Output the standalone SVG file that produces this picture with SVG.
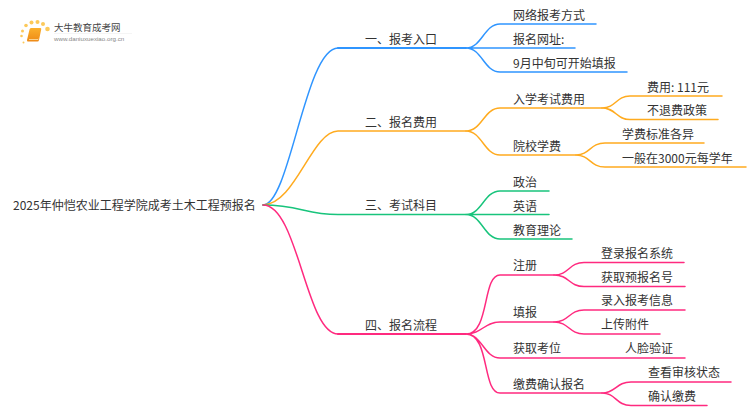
<svg xmlns="http://www.w3.org/2000/svg" width="750" height="410" viewBox="0 0 750 410">
<defs><linearGradient id="bk" x1="0" y1="0" x2="0" y2="1"><stop offset="0" stop-color="#fbb02c"/><stop offset="1" stop-color="#ee8a17"/></linearGradient></defs>
<style>
text{font-family:"Noto Sans CJK SC","Noto Sans",sans-serif;font-size:12px;fill:#333}
.c{fill:none;stroke-width:1.5;stroke-linecap:round}
.m{stroke-width:2}
.b{stroke:#2f95ff}.o{stroke:#ffab1f}.g{stroke:#18c47c}.p{stroke:#ff2a7f}
</style>
<rect width="750" height="410" fill="#fff"/>
<g id="logo">
<g fill="#fcc95a"><circle cx="23.500" cy="42.500" r="1"/><circle cx="21.500" cy="36" r="1.300"/><circle cx="22.500" cy="31" r="1.500"/><circle cx="26" cy="25.500" r="1.800"/><circle cx="31.500" cy="22.500" r="2"/><circle cx="37.500" cy="22" r="2"/><circle cx="43" cy="24" r="2"/><circle cx="47.500" cy="29" r="2.300"/></g>
<path d="M31 28h9.500q1 0 .7 1.500l-2.200 10.500q-.3 1.500-1.500 1.500h-9.500q-1.200 0-1-1.500l2.500-10.500q.3-1.500 1.500-1.500z" fill="url(#bk)"/>
<path d="M29 39.500h9l1-1" fill="none" stroke="#fde3b0" stroke-width=".8"/>
<text x="54" y="31" style="font-size:9.500px;fill:#444">大牛教育成考网</text>
<text x="54" y="41" style="font-family:'Liberation Sans',sans-serif;font-size:6.200px;fill:#888">www.daniuxuexiao.org.cn</text>
<path d="M54 33.500H132" stroke="#eee" stroke-width=".6"/>
</g>
<g id="connectors">
<path class="c b" d="M263 205C290 205 305 48 338 48"/><path class="c b m" d="M338 48H466"/>
<path class="c o" d="M263 205C295 205 312 131 338 131H466"/>
<path class="c g" d="M263 205C300 205 305 214.500 338 214.500H466"/>
<path class="c p" d="M263 205C298 205 306 334 338 334"/><path class="c p m" d="M338 334H466"/>
<path class="c b" d="M466 48C482 48 484 24 500 24H596M466 48H575M466 48C482 48 484 72 500 72H627"/>
<path class="c o" d="M466 131C482 131 484 108 500 108H602M466 131C482 131 484 155 500 155H576"/>
<path class="c o" d="M602 108C616 108 616 96 630 96H722M602 108C616 108 616 119.500 630 119.500H718"/>
<path class="c o" d="M576 155C590 155 590 143 605 143H704M576 155C590 155 590 167 605 167H746"/>
<path class="c g" d="M466 214.500C482 214.500 484 191 500 191H549M466 214.500H549M466 214.500C482 214.500 484 239 500 239H572"/>
<path class="c p" d="M466 334C490 334 482 275 500 275H554M466 334C482 334 484 322 500 322H554M466 334C482 334 484 358 500 358H685M466 334C490 334 482 393 500 393H602"/>
<path class="c p" d="M554 275C569 275 569 262.500 584 262.500H684M554 275C569 275 569 286.500 584 286.500H685"/>
<path class="c p" d="M554 322C569 322 569 310 584 310H685M554 322C569 322 569 334 584 334H660"/>
<path class="c p" d="M602 393C616 393 616 382 631 382H731M602 393C616 393 616 405.500 631 405.500H707"/>
</g>
<g id="root"><text x="13" y="210">2025年仲恺农业工程学院成考土木工程预报名</text></g>
<g id="n1"><text x="365" y="44">一、报考入口</text></g>
<g id="n2"><text x="365" y="127">二、报名费用</text></g>
<g id="n3"><text x="365" y="210">三、考试科目</text></g>
<g id="n4"><text x="365" y="330">四、报名流程</text></g>
<g id="n1a"><text x="513" y="20">网络报考方式</text></g>
<g id="n1b"><text x="513" y="44">报名网址:</text></g>
<g id="n1c"><text x="513" y="68">9月中旬可开始填报</text></g>
<g id="n2a"><text x="513" y="104">入学考试费用</text></g>
<g id="n2a1"><text x="647" y="92">费用: 111元</text></g>
<g id="n2a2"><text x="647" y="115">不退费政策</text></g>
<g id="n2b"><text x="513" y="151">院校学费</text></g>
<g id="n2b1"><text x="622" y="139">学费标准各异</text></g>
<g id="n2b2"><text x="622" y="163">一般在3000元每学年</text></g>
<g id="n3a"><text x="513" y="187">政治</text></g>
<g id="n3b"><text x="513" y="211">英语</text></g>
<g id="n3c"><text x="513" y="235">教育理论</text></g>
<g id="n4a"><text x="513" y="270">注册</text></g>
<g id="n4a1"><text x="601" y="258">登录报名系统</text></g>
<g id="n4a2"><text x="601" y="282">获取预报名号</text></g>
<g id="n4b"><text x="513" y="317">填报</text></g>
<g id="n4b1"><text x="601" y="305">录入报考信息</text></g>
<g id="n4b2"><text x="601" y="329">上传附件</text></g>
<g id="n4c"><text x="513" y="353">获取考位</text></g>
<g id="n4c1"><text x="625" y="353">人脸验证</text></g>
<g id="n4d"><text x="513" y="389">缴费确认报名</text></g>
<g id="n4d1"><text x="648" y="377">查看审核状态</text></g>
<g id="n4d2"><text x="648" y="401">确认缴费</text></g>
</svg>
